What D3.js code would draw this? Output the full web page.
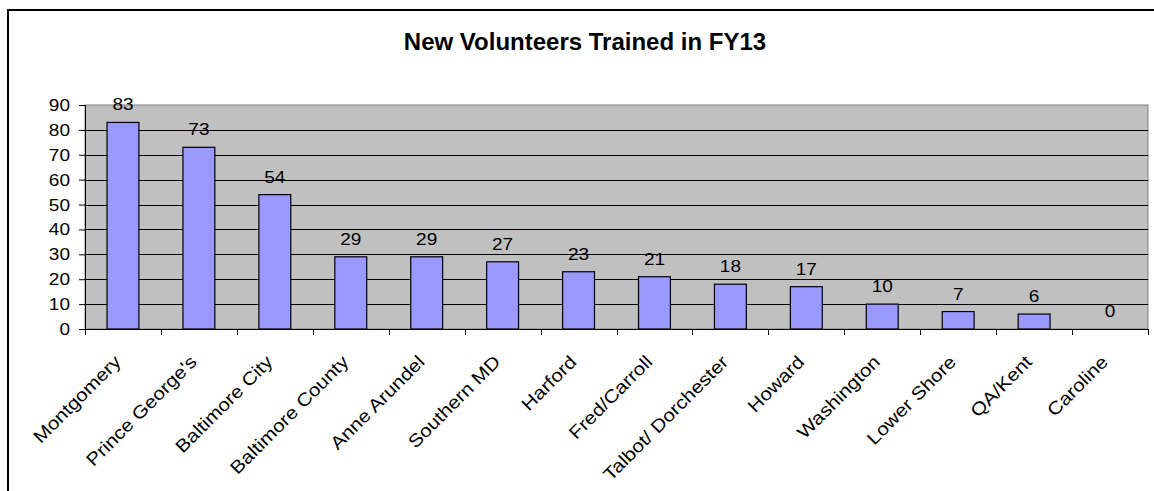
<!DOCTYPE html>
<html>
<head>
<meta charset="utf-8">
<script src="https://cdn.jsdelivr.net/npm/d3@7"></script>
<style>
  body { margin: 0; background: #fff; }
  svg text { font-family: "Liberation Sans", Arial, sans-serif; fill: #000; }
</style>
</head>
<body>
<svg id="chart" width="1154" height="491"></svg>
<script>
// chart data
const regions = ["Montgomery", "Prince George's", "Baltimore City", "Baltimore County",
  "Anne Arundel", "Southern MD", "Harford", "Fred/Carroll", "Talbot/ Dorchester",
  "Howard", "Washington", "Lower Shore", "QA/Kent", "Caroline"];
const volunteers = [83, 73, 54, 29, 29, 27, 23, 21, 18, 17, 10, 7, 6, 0];
const yTicks = [0, 10, 20, 30, 40, 50, 60, 70, 80, 90];
const title = "New Volunteers Trained in FY13";

const svg = d3.select("#chart");
const plot = { left: 85, right: 1148, top: 105, bottom: 329 };
const stretch = 1.12; // small text in the original renders wide
const small = "17px";

// outer chart border (runs off the right and bottom edges)
svg.append("rect")
  .attr("x", 8).attr("y", 10)
  .attr("width", 1160).attr("height", 500)
  .attr("fill", "none").attr("stroke", "#000").attr("stroke-width", 2);

svg.append("text")
  .attr("x", 585).attr("y", 50)
  .attr("text-anchor", "middle")
  .style("font-size", "24px").style("font-weight", "bold")
  .text(title);

const x = d3.scaleBand()
  .domain(regions)
  .range([plot.left, plot.right])
  .paddingInner(0.58).paddingOuter(0.29);

const y = d3.scaleLinear().domain([0, 90]).range([plot.bottom, plot.top]);

// plot area background
svg.append("rect")
  .attr("x", plot.left).attr("y", plot.top)
  .attr("width", plot.right - plot.left).attr("height", plot.bottom - plot.top)
  .attr("fill", "#c0c0c0").attr("stroke", "#808080");

// gridlines
svg.selectAll(".grid")
  .data(yTicks.filter(d => d > 0 && d < 90))
  .enter().append("line")
  .attr("x1", plot.left).attr("x2", plot.right)
  .attr("y1", d => Math.round(y(d)) + 0.5).attr("y2", d => Math.round(y(d)) + 0.5)
  .attr("stroke", "#000");

// bars
svg.selectAll(".bar")
  .data(volunteers)
  .enter().append("rect")
  .attr("x", (d, i) => x(regions[i]))
  .attr("y", d => y(d))
  .attr("width", x.bandwidth())
  .attr("height", d => plot.bottom - y(d))
  .attr("fill", "#9999ff").attr("stroke", "#000").attr("stroke-width", 1.2);

// value labels
svg.selectAll(".val")
  .data(volunteers)
  .enter().append("text")
  .attr("transform", (d, i) => `translate(${x(regions[i]) + x.bandwidth() / 2},${y(d) - 12}) scale(${stretch},1)`)
  .attr("text-anchor", "middle")
  .style("font-size", small)
  .text(d => d);

// y axis
const yAxis = d3.axisLeft(y).tickValues(yTicks).tickSize(6).tickFormat("");
svg.append("g").attr("transform", `translate(${plot.left},0)`).call(yAxis)
  .call(g => g.select(".domain").attr("stroke", "#000"));

svg.selectAll(".ylab")
  .data(yTicks)
  .enter().append("text")
  .attr("transform", d => `translate(70,${y(d) + 6}) scale(${stretch},1)`)
  .attr("text-anchor", "end")
  .style("font-size", small)
  .text(d => d);

// x axis: ticks between categories
svg.append("line")
  .attr("x1", plot.left).attr("x2", plot.right)
  .attr("y1", plot.bottom + 0.5).attr("y2", plot.bottom + 0.5)
  .attr("stroke", "#000");

const step = x.step();
svg.selectAll(".xtick")
  .data(d3.range(regions.length + 1))
  .enter().append("line")
  .attr("x1", i => Math.round(plot.left + i * step) + 0.5)
  .attr("x2", i => Math.round(plot.left + i * step) + 0.5)
  .attr("y1", plot.bottom).attr("y2", plot.bottom + 6)
  .attr("stroke", "#000");

svg.selectAll(".xlab")
  .data(regions)
  .enter().append("text")
  .attr("transform", d => `translate(${x(d) + x.bandwidth() / 2 - 1},363) rotate(-45) scale(1.15,1)`)
  .attr("text-anchor", "end")
  .style("font-size", "18px")
  .text(d => d);
</script>
</body>
</html>
